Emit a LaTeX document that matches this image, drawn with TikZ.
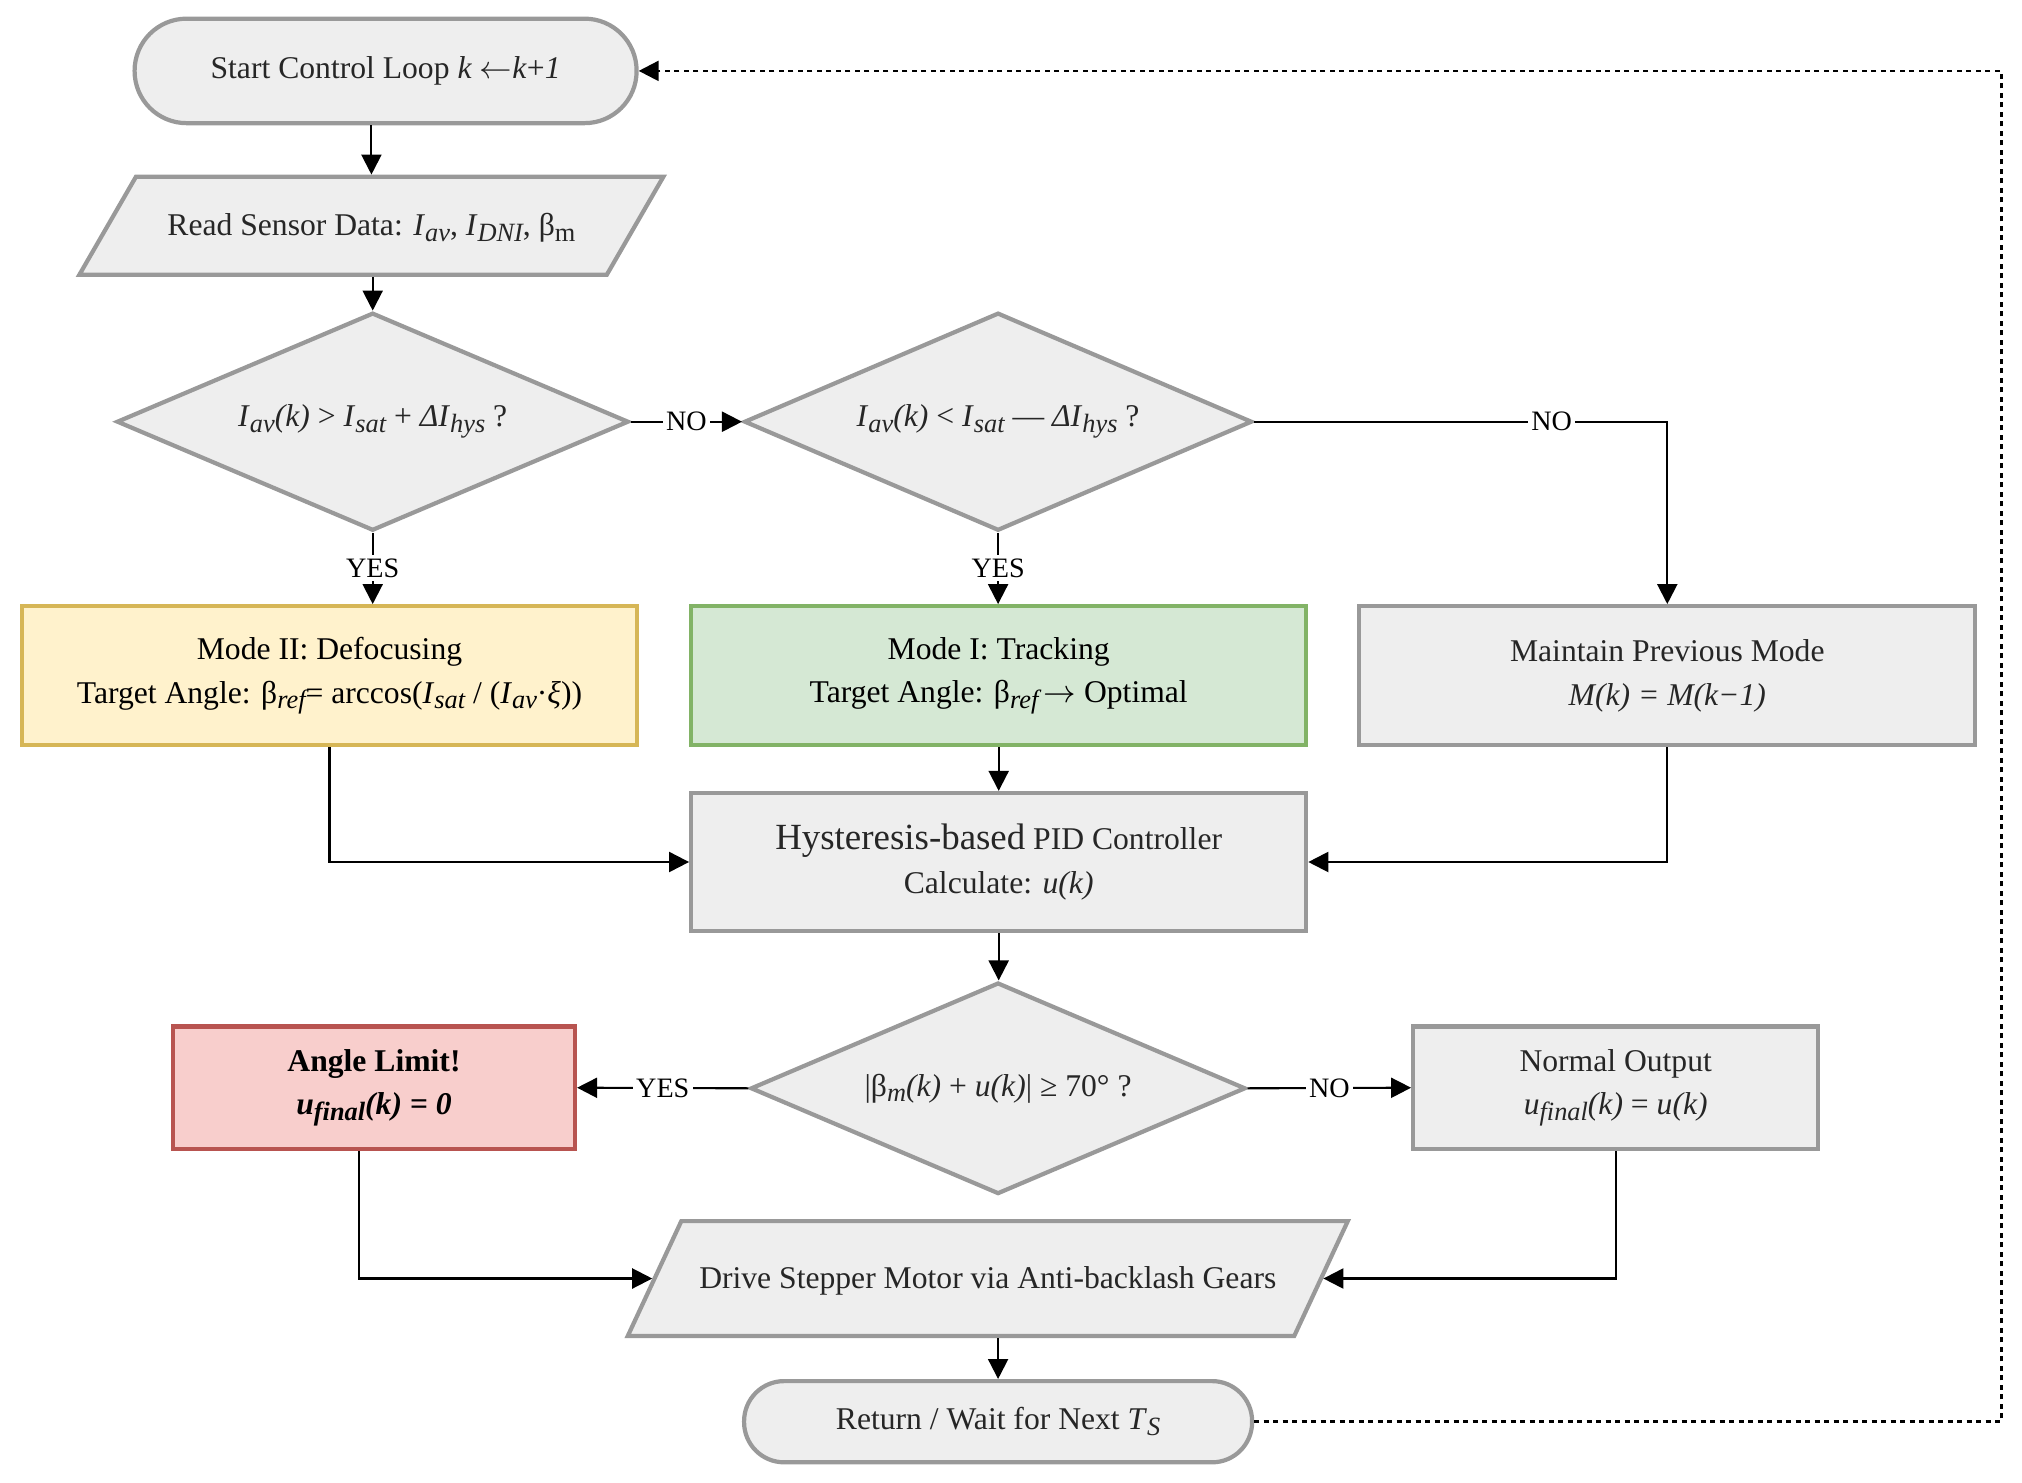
\documentclass[tikz,border=0pt]{standalone}
\usepackage{fontspec}
\setmainfont{Liberation Serif}
\usetikzlibrary{positioning, arrows.meta, shapes.geometric}
\newcommand{\lsub}[1]{\raisebox{-0.4ex}{\fontsize{7.5}{8}\selectfont #1}}
\newcommand{\isub}[1]{\raisebox{-0.4ex}{\fontsize{7.5}{8}\selectfont\itshape #1}}

\begin{document}
\begin{tikzpicture}[
    base_node/.style={draw=cedge, fill=cbox, line width=1.2pt, align=center, text=black!85, font=\fontsize{9}{12.5}\selectfont, inner sep=2pt},
    term_node/.style={base_node, rectangle, rounded corners=#1},
    io_node/.style={base_node, trapezium, trapezium stretches body=true, inner ysep=0pt},
    dec_node/.style={base_node, diamond, aspect=2.35, inner sep=1pt},
    proc_node/.style={base_node, rectangle},
    flow/.style={-{Triangle[length=2mm, width=2mm]}, line width=0.6pt, black},
    loop_line/.style={-{Triangle[length=2mm, width=2mm]}, line width=0.7pt, dash pattern=on 0.5mm off 0.45mm, black},
    edge_label/.style={font=\fontsize{8}{9}\selectfont, fill=white, inner sep=1pt}
]

  % --- Color Definitions ---
  \definecolor{cbox}{HTML}{EEEEEE}    % grey fill
  \definecolor{cedge}{HTML}{999999}   % grey border
  \definecolor{cdefill}{HTML}{FFF2CC} % defocusing
  \definecolor{cdeedge}{HTML}{D6B656}
  \definecolor{ctrfill}{HTML}{D5E8D4} % tracking
  \definecolor{ctredge}{HTML}{82B366}
  \definecolor{clmfill}{HTML}{F8CECC} % limit
  \definecolor{clmedge}{HTML}{B85450}

  \useasboundingbox (0,0) rectangle (20.22,-14.83);

  % --- Input and mode decision ---
  \node[term_node=0.52cm, minimum width=5.02cm, minimum height=1.045cm] (start) at (3.856,-0.709)
    {Start Control Loop \textit{k} \ensuremath{\leftarrow}\textit{k}+\textit{1}};
  \node[io_node, trapezium left angle=60, trapezium right angle=120, text height=0.59cm, text depth=0.39cm, minimum width=5.84cm] (read) at (3.714,-2.257)
    {Read Sensor Data: \textit{I}\isub{av}, \textit{I}\isub{DNI}, β\lsub{m}};
  \node[dec_node, minimum width=5.12cm, minimum height=2.18cm] (dec1) at (3.727,-4.217)
    {\textit{I}\isub{av}\textit{(k)} > \textit{I}\isub{sat} + \textit{ΔI}\isub{hys} ?};
  \node[dec_node, minimum width=5.08cm, minimum height=2.18cm] (dec2) at (9.981,-4.217)
    {\textit{I}\isub{av}\textit{(k)} < \textit{I}\isub{sat} — \textit{ΔI}\isub{hys} ?};

  % --- Modes ---
  \node[proc_node, draw=cdeedge, fill=cdefill, text=black, minimum width=6.15cm, minimum height=1.39cm] (mode2) at (3.295,-6.757)
    {Mode II: Defocusing\\Target Angle: β\isub{ref}= arccos(\textit{I}\isub{sat} / (\textit{I}\isub{av}·\textit{ξ}))};
  \node[proc_node, draw=ctredge, fill=ctrfill, text=black, minimum width=6.15cm, minimum height=1.39cm] (mode1) at (9.987,-6.757)
    {Mode I: Tracking\\Target Angle: β\isub{ref}\,\ensuremath{\rightarrow} Optimal};
  \node[proc_node, minimum width=6.16cm, minimum height=1.39cm] (maintain) at (16.673,-6.757)
    {Maintain Previous Mode\\\textit{M(k) = M(k−1)}};

  % --- Controller and limit check ---
  \node[proc_node, minimum width=6.15cm, minimum height=1.38cm] (pid) at (9.987,-8.620)
    {{\fontsize{10.5}{12.5}\selectfont Hysteresis-based} PID Controller\\Calculate: \textit{u(k)}};
  \node[dec_node, minimum width=4.95cm, minimum height=2.115cm] (dec3) at (9.981,-10.883)
    {|β\isub{m}\textit{(k)} + \textit{u(k)}| ≥ 70° ?};
  \node[proc_node, draw=clmedge, fill=clmfill, text=black, font=\fontsize{9}{12.5}\selectfont\bfseries, minimum width=4.02cm, minimum height=1.225cm] (limit) at (3.740,-10.877)
    {Angle Limit!\\\textit{u}\isub{final}\textit{(k) = 0}};
  \node[proc_node, minimum width=4.05cm, minimum height=1.225cm] (normal) at (16.157,-10.877)
    {Normal Output\\\textit{u}\isub{final}\textit{(k)} = \textit{u(k)}};

  % --- Output ---
  \node[io_node, trapezium left angle=65, trapezium right angle=115, text height=0.674cm, text depth=0.474cm, minimum width=7.2cm] (drive) at (9.878,-12.785)
    {Drive Stepper Motor via Anti-backlash Gears};
  \node[term_node=0.4cm, minimum width=5.08cm, minimum height=0.812cm] (ret) at (9.981,-14.217)
    {Return / Wait for Next \textit{T}\isub{S}};
  \coordinate (loop_x) at (20.013,0);

  % --- Connectors ---
  \draw[flow] (read.north |- start.south) -- (read.north);
  \draw[flow] (read.south -| dec1.north) -- (dec1.north);
  \draw[flow] (dec1.east) -- node[edge_label] {NO} (dec2.west);
  \draw[flow] (dec2.east) -| node[edge_label, pos=0.36] {NO} (maintain.north);
  \draw[flow] (dec1.south) -- node[edge_label] {YES} (dec1.south |- mode2.north);
  \draw[flow] (dec2.south) -- node[edge_label] {YES} (dec2.south |- mode1.north);
  \draw[flow] (mode1.south) -- (pid.north);
  \draw[flow] (mode2.south) |- (pid.west);
  \draw[flow] (maintain.south) |- (pid.east);
  \draw[flow] (pid.south) -- (pid.south |- dec3.north);
  \draw[flow] (dec3.west) -- node[edge_label] {YES} (limit.east);
  \draw[flow] (dec3.east) -- node[edge_label] {NO} (normal.west);
  \draw[flow] ([xshift=-0.15cm]limit.south) |- (drive.west);
  \draw[flow] (normal.south) |- (drive.east);
  \draw[flow] (drive.south -| ret.north) -- (ret.north);
  \draw[loop_line] (ret.east) -- (ret.east -| loop_x) -- (start.east -| loop_x) -- (start.east);

\end{tikzpicture}
\end{document}
